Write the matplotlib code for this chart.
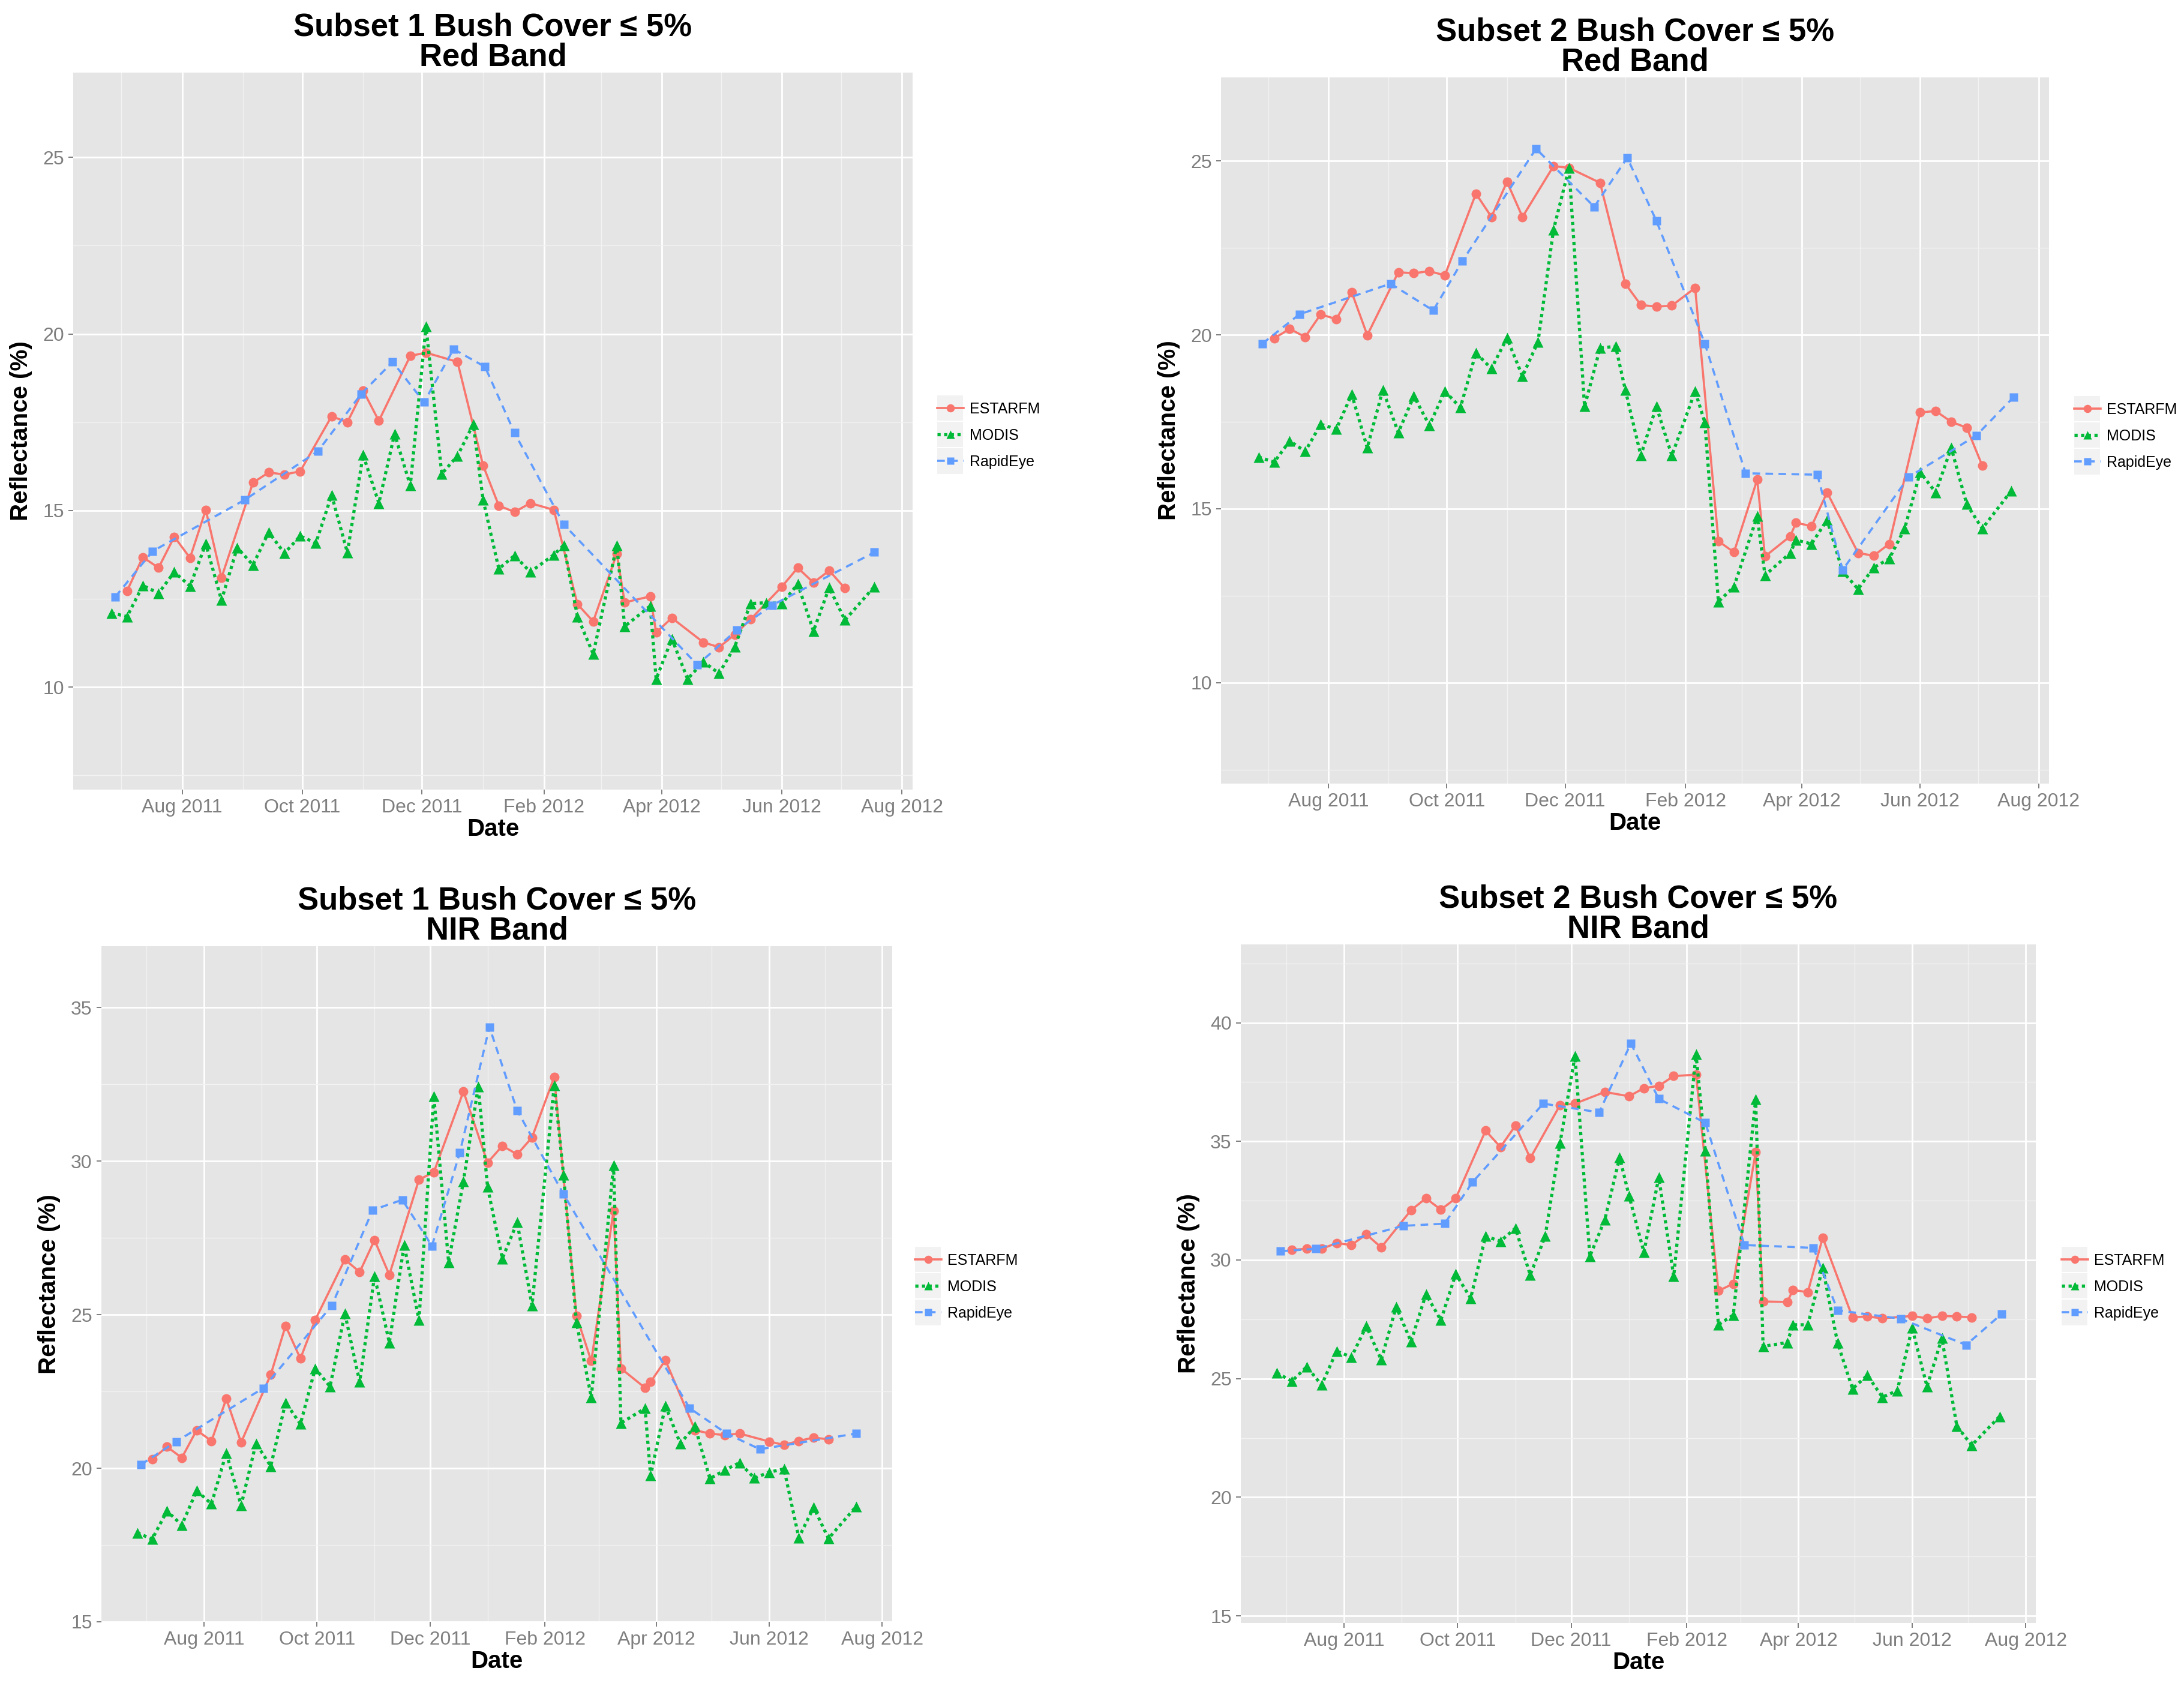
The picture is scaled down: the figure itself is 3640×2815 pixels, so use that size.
import matplotlib
matplotlib.use("Agg")
import matplotlib.pyplot as plt
import matplotlib.dates as mdates
from matplotlib.patches import Rectangle
from matplotlib.ticker import MultipleLocator
from datetime import datetime, timedelta

plt.rcParams['font.family'] = ['Liberation Sans', 'DejaVu Sans']

# acquisition dates
modis_dates = ["2011-06-26", "2011-07-04", "2011-07-12", "2011-07-20", "2011-07-28",
               "2011-08-05", "2011-08-13", "2011-08-21", "2011-08-29", "2011-09-06",
               "2011-09-14", "2011-09-22", "2011-09-30", "2011-10-08", "2011-10-16",
               "2011-10-24", "2011-11-01", "2011-11-09", "2011-11-17", "2011-11-25",
               "2011-12-03", "2011-12-11", "2011-12-19", "2011-12-27", "2012-01-01",
               "2012-01-09", "2012-01-17", "2012-01-25", "2012-02-06", "2012-02-11",
               "2012-02-18", "2012-02-26", "2012-03-09", "2012-03-13", "2012-03-26",
               "2012-03-29", "2012-04-06", "2012-04-14", "2012-04-22", "2012-04-30",
               "2012-05-08", "2012-05-16", "2012-05-24", "2012-06-01", "2012-06-09",
               "2012-06-17", "2012-06-25", "2012-07-03", "2012-07-18"]

est_dates_s1 = ["2011-07-04", "2011-07-12", "2011-07-20", "2011-07-28", "2011-08-05",
                "2011-08-13", "2011-08-21", "2011-09-06", "2011-09-14", "2011-09-22",
                "2011-09-30", "2011-10-16", "2011-10-24", "2011-11-01", "2011-11-09",
                "2011-11-25", "2011-12-03", "2011-12-19", "2012-01-01", "2012-01-09",
                "2012-01-17", "2012-01-25", "2012-02-06", "2012-02-18", "2012-02-26",
                "2012-03-09", "2012-03-13", "2012-03-26", "2012-03-29", "2012-04-06",
                "2012-04-22", "2012-04-30", "2012-05-08", "2012-05-16", "2012-06-01",
                "2012-06-09", "2012-06-17", "2012-06-25", "2012-07-03"]

est_dates_s2 = ["2011-07-04", "2011-07-12", "2011-07-20", "2011-07-28", "2011-08-05",
                "2011-08-13", "2011-08-21", "2011-09-06", "2011-09-14", "2011-09-22",
                "2011-09-30", "2011-10-16", "2011-10-24", "2011-11-01", "2011-11-09",
                "2011-11-25", "2011-12-03", "2011-12-19", "2012-01-01", "2012-01-09",
                "2012-01-17", "2012-01-25", "2012-02-06", "2012-02-18", "2012-02-26",
                "2012-03-09", "2012-03-13", "2012-03-26", "2012-03-29", "2012-04-06",
                "2012-04-14", "2012-04-30", "2012-05-08", "2012-05-16", "2012-06-01",
                "2012-06-09", "2012-06-17", "2012-06-25", "2012-07-03"]

rapideye_dates_s1 = ["2011-06-28", "2011-07-17", "2011-09-02", "2011-10-09", "2011-10-31",
                     "2011-11-16", "2011-12-02", "2011-12-17", "2012-01-02", "2012-01-17",
                     "2012-02-11", "2012-04-19", "2012-05-09", "2012-05-27", "2012-07-18"]

rapideye_dates_s2 = ["2011-06-28", "2011-07-17", "2011-09-02", "2011-09-24", "2011-10-09",
                     "2011-11-16", "2011-12-16", "2012-01-02", "2012-01-17", "2012-02-11",
                     "2012-03-03", "2012-04-09", "2012-04-22", "2012-05-26", "2012-06-30",
                     "2012-07-19"]

# reflectance (%) - subset 1, red band
red_s1_estarfm = [12.73, 13.68, 13.38, 14.26, 13.66, 15.02, 13.10, 15.79, 16.08, 16.02,
                  16.11, 17.67, 17.50, 18.40, 17.54, 19.38, 19.47, 19.21, 16.28, 15.14,
                  14.96, 15.21, 15.02, 12.35, 11.86, 13.78, 12.40, 12.57, 11.55, 11.96,
                  11.27, 11.13, 11.49, 11.92, 12.85, 13.38, 12.96, 13.30, 12.80]
red_s1_modis = [12.10, 12.00, 12.88, 12.66, 13.26, 12.86, 14.06, 12.46, 13.95, 13.46,
                14.39, 13.79, 14.28, 14.08, 15.44, 13.81, 16.58, 15.21, 17.17, 15.71,
                20.21, 16.04, 16.55, 17.44, 15.31, 13.35, 13.73, 13.26, 13.75, 14.02,
                12.00, 10.94, 14.02, 11.72, 12.30, 10.23, 11.37, 10.23, 10.72, 10.39,
                11.15, 12.37, 12.39, 12.37, 12.92, 11.59, 12.82, 11.90, 12.85]
red_s1_rapideye = [12.56, 13.85, 15.31, 16.68, 18.30, 19.21, 18.07, 19.57, 19.07, 17.20,
                   14.61, 10.63, 11.62, 12.32, 13.82]

# subset 2, red band
red_s2_estarfm = [19.90, 20.17, 19.94, 20.59, 20.45, 21.22, 19.99, 21.80, 21.77, 21.83,
                  21.71, 24.06, 23.39, 24.40, 23.39, 24.85, 24.80, 24.37, 21.47, 20.86,
                  20.81, 20.84, 21.35, 14.07, 13.75, 15.84, 13.63, 14.21, 14.60, 14.50,
                  15.47, 13.73, 13.65, 13.99, 17.77, 17.81, 17.50, 17.33, 16.24]
red_s2_modis = [16.49, 16.34, 16.95, 16.65, 17.43, 17.29, 18.29, 16.75, 18.42, 17.19,
                18.24, 17.40, 18.38, 17.91, 19.48, 19.03, 19.91, 18.81, 19.80, 23.02,
                24.80, 17.94, 19.62, 19.67, 18.42, 16.53, 17.94, 16.53, 18.38, 17.48,
                12.33, 12.76, 14.79, 13.09, 13.73, 14.10, 13.99, 14.68, 13.20, 12.69,
                13.31, 13.56, 14.43, 16.05, 15.47, 16.75, 15.13, 14.43, 15.52]
red_s2_rapideye = [19.75, 20.59, 21.47, 20.70, 22.12, 25.35, 23.68, 25.09, 23.28, 19.75,
                   16.02, 15.98, 13.24, 15.91, 17.11, 18.20]

# subset 1, NIR band
nir_s1_estarfm = [20.29, 20.70, 20.34, 21.24, 20.89, 22.26, 20.84, 23.05, 24.64, 23.57,
                  24.83, 26.80, 26.39, 27.43, 26.30, 29.40, 29.64, 32.27, 29.95, 30.50,
                  30.22, 30.77, 32.74, 24.96, 23.49, 28.38, 23.25, 22.62, 22.81, 23.52,
                  21.24, 21.13, 21.08, 21.13, 20.87, 20.76, 20.89, 21.00, 20.94]
nir_s1_modis = [17.90, 17.69, 18.61, 18.15, 19.27, 18.84, 20.50, 18.79, 20.81, 20.07,
                22.14, 21.44, 23.25, 22.66, 25.04, 22.81, 26.26, 24.09, 27.27, 24.83,
                32.11, 26.71, 29.35, 32.43, 29.16, 26.83, 28.01, 25.30, 32.47, 29.56,
                24.75, 22.31, 29.87, 21.47, 21.95, 19.76, 22.04, 20.81, 21.36, 19.66,
                19.94, 20.18, 19.68, 19.87, 19.98, 17.74, 18.73, 17.71, 18.76]
nir_s1_rapideye = [20.12, 20.87, 22.61, 25.30, 28.41, 28.74, 27.24, 30.27, 34.37, 31.65,
                   28.93, 21.96, 21.13, 20.62, 21.13]

# subset 2, NIR band
nir_s2_estarfm = [30.43, 30.47, 30.47, 30.71, 30.63, 31.08, 30.53, 32.10, 32.60, 32.12,
                  32.60, 35.45, 34.76, 35.66, 34.29, 36.53, 36.59, 37.08, 36.90, 37.24,
                  37.34, 37.75, 37.81, 28.70, 29.00, 34.54, 28.25, 28.23, 28.74, 28.64,
                  30.94, 27.58, 27.62, 27.54, 27.64, 27.54, 27.64, 27.62, 27.58]
nir_s2_modis = [25.24, 24.89, 25.50, 24.73, 26.16, 25.91, 27.21, 25.79, 28.03, 26.56,
                28.56, 27.46, 29.41, 28.39, 31.00, 30.79, 31.34, 29.37, 31.00, 34.94,
                38.60, 30.16, 31.69, 34.33, 32.71, 30.33, 33.48, 29.31, 38.67, 34.60,
                27.27, 27.68, 36.77, 26.36, 26.52, 27.27, 27.27, 29.67, 26.50, 24.57,
                25.14, 24.22, 24.49, 27.13, 24.67, 26.70, 23.00, 22.19, 23.41]
nir_s2_rapideye = [30.37, 30.47, 31.44, 31.53, 33.28, 36.59, 36.22, 39.13, 36.79, 35.78,
                   30.63, 30.51, 27.88, 27.52, 26.42, 27.72]

W, H = 3640, 2815
col_est, col_mod, col_rap = "#F8766D", "#00BA38", "#619CFF"


def to_dt(lst):
    return [datetime.strptime(s, "%Y-%m-%d") for s in lst]


def fig_rect(l, t, r, b):
    return [l / W, 1 - b / H, (r - l) / W, (b - t) / H]


panels = [
    dict(title="Subset 1 Bush Cover \u2264 5%\nRed Band", rect=(122, 121, 1521, 1316),
         est=(est_dates_s1, red_s1_estarfm), mod=red_s1_modis,
         rap=(rapideye_dates_s1, red_s1_rapideye),
         ylim=(7.1, 27.4), yticks=[10, 15, 20, 25], leg=(1562, 726)),
    dict(title="Subset 2 Bush Cover \u2264 5%\nRed Band", rect=(2035, 129, 3415, 1306),
         est=(est_dates_s2, red_s2_estarfm), mod=red_s2_modis,
         rap=(rapideye_dates_s2, red_s2_rapideye),
         ylim=(7.1, 27.4), yticks=[10, 15, 20, 25], leg=(3457, 727)),
    dict(title="Subset 1 Bush Cover \u2264 5%\nNIR Band", rect=(169, 1577, 1487, 2703),
         est=(est_dates_s1, nir_s1_estarfm), mod=nir_s1_modis,
         rap=(rapideye_dates_s1, nir_s1_rapideye),
         ylim=(15.0, 37.0), yticks=[15, 20, 25, 30, 35], leg=(1525, 2145)),
    dict(title="Subset 2 Bush Cover \u2264 5%\nNIR Band", rect=(2068, 1574, 3393, 2705),
         est=(est_dates_s2, nir_s2_estarfm), mod=nir_s2_modis,
         rap=(rapideye_dates_s2, nir_s2_rapideye),
         ylim=(14.7, 43.3), yticks=[15, 20, 25, 30, 35, 40], leg=(3436, 2145)),
]

fig = plt.figure(figsize=(W / 100, H / 100), dpi=100)

mod_dt = to_dt(modis_dates)
x0 = min(mod_dt)
x1 = max(mod_dt)
span = (x1 - x0).days
xlim = (x0 - timedelta(days=span * 0.05), x1 + timedelta(days=span * 0.05))

legends = []
for p in panels:
    ax = fig.add_axes(fig_rect(*p["rect"]))
    ax.set_facecolor("#E5E5E5")
    for s in ax.spines.values():
        s.set_visible(False)

    l1, = ax.plot(to_dt(p["est"][0]), p["est"][1], color=col_est, lw=2.6, ls="-",
                  marker="o", ms=11.5, mec="none", label="ESTARFM")
    l2, = ax.plot(mod_dt, p["mod"], color=col_mod, lw=3.8, ls=(0, (1, 1.1)),
                  marker="^", ms=12.5, mec="none", label="MODIS")
    l3, = ax.plot(to_dt(p["rap"][0]), p["rap"][1], color=col_rap, lw=2.6, ls=(0, (3.5, 2.5)),
                  marker="s", ms=10.5, mec="none", label="RapidEye")

    ax.set_xlim(xlim)
    ax.set_ylim(p["ylim"])
    ax.set_yticks(p["yticks"])
    ax.yaxis.set_minor_locator(MultipleLocator(2.5))
    ax.xaxis.set_major_locator(mdates.MonthLocator(bymonth=[2, 4, 6, 8, 10, 12]))
    ax.xaxis.set_minor_locator(mdates.MonthLocator(bymonth=[1, 3, 5, 7, 9, 11]))
    ax.xaxis.set_major_formatter(mdates.DateFormatter("%b %Y"))

    ax.set_axisbelow(True)
    ax.grid(which="major", color="white", lw=2.0)
    ax.grid(which="minor", color="#F2F2F2", lw=1.0)
    ax.tick_params(which="major", length=6, width=1.4, color="#7F7F7F",
                   labelcolor="#7F7F7F", labelsize=23, pad=5)
    ax.tick_params(which="minor", length=0)

    ax.set_xlabel("Date", fontsize=29, fontweight="bold", labelpad=1)
    ax.set_ylabel("Reflectance (%)", fontsize=29, fontweight="bold", labelpad=12)
    ax.set_title(p["title"], fontsize=38, fontweight="bold", linespacing=1.0, pad=8)

    lx, ly = p["leg"]
    leg = ax.legend(handles=[l1, l2, l3], loc="center left",
                    bbox_to_anchor=(lx / W, 1 - ly / H), bbox_transform=fig.transFigure,
                    frameon=False, fontsize=18, handlelength=1.75, handletextpad=0.4,
                    labelspacing=0.8, borderpad=0, borderaxespad=0, markerscale=0.85)
    legends.append(leg)

# grey key boxes behind the legend symbols, like ggplot legend keys
fig.canvas.draw()
renderer = fig.canvas.get_renderer()
for leg in legends:
    for h in leg.legend_handles:
        bb = h.get_window_extent(renderer)
        cx = (bb.x0 + bb.x1) / 2
        cy = (bb.y0 + bb.y1) / 2
        size = 45
        fig.patches.append(Rectangle(((cx - size / 2) / W, (cy - size / 2) / H),
                                     size / W, size / H, transform=fig.transFigure,
                                     facecolor="#F2F2F2", edgecolor="white", lw=1.5,
                                     zorder=-1))

fig.savefig("out.png", dpi=100, facecolor="white")
